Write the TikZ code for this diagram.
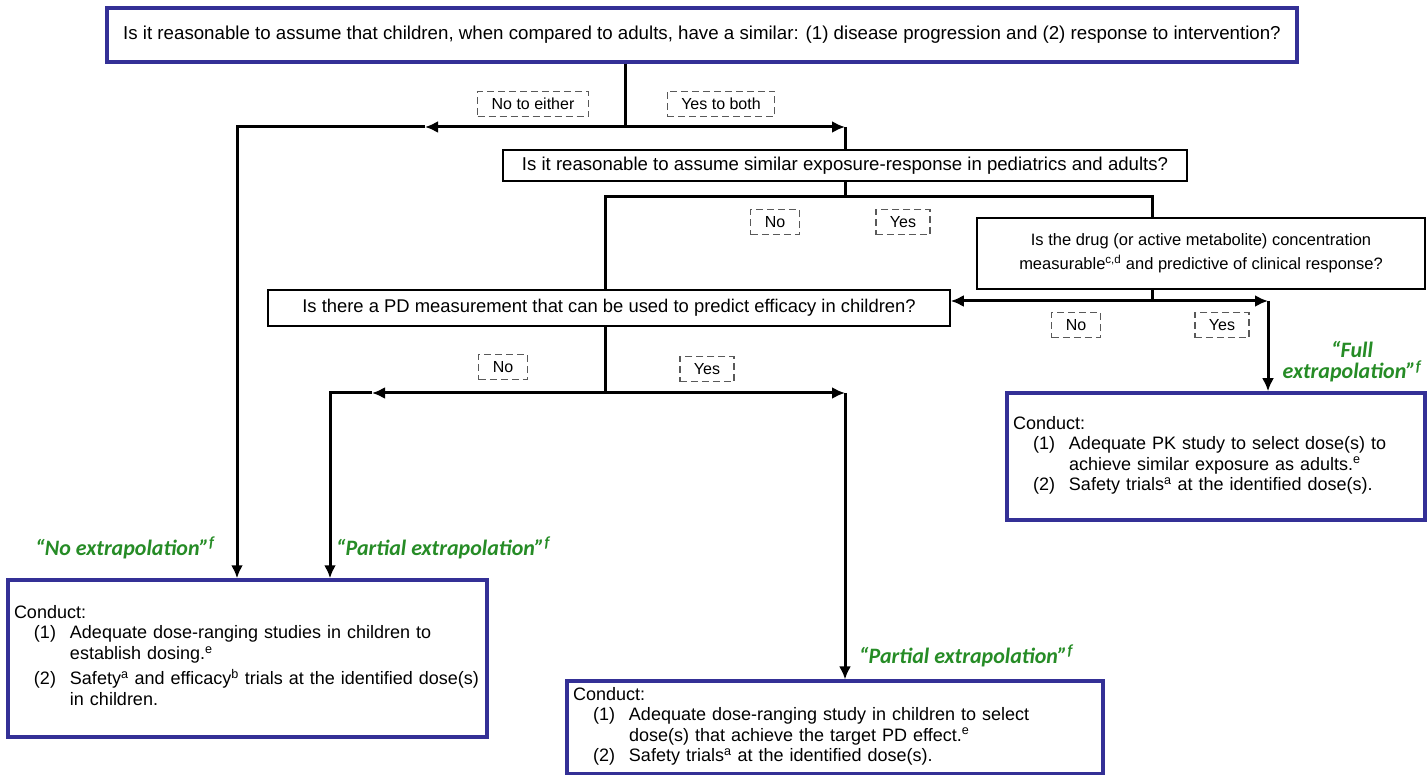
\documentclass[tikz,border=0pt]{standalone}
\usepackage{fontspec}
\setmainfont{Liberation Sans}
\newfontfamily\calib{Carlito}
\usetikzlibrary{arrows.meta}
\definecolor{boxblue}{RGB}{52,48,150}
\definecolor{extgreen}{RGB}{38,140,38}

\begin{document}
\begin{tikzpicture}[x=1pt, y=-1pt,
  conn/.style={%
    line width=3pt%
  },
  tip/.style={%
    conn,%
    -{Latex[length=13pt,width=12pt]}%
  },
  bluebox/.style={%
    draw=boxblue,%
    line width=3.5pt,%
    fill=white,%
    inner sep=6pt,%
    font=\fontsize{18}{20.5}\selectfont%
  },
  qbox/.style={%
    draw=black,%
    line width=1.5pt,%
    fill=white,%
    align=center,%
    font=\fontsize{18.6}{24}\selectfont%
  },
  answer/.style={%
    draw=black!65,%
    dash pattern=on 7pt off 4pt,%
    line width=1.2pt,%
    inner xsep=14pt,%
    inner ysep=7pt,%
    font=\fontsize{16}{18}\selectfont%
  },
  extlabel/.style={%
    text=extgreen,%
    align=center,%
    font=\calib\bfseries\itshape\fontsize{22}{21}\selectfont%
  }
]
  \useasboundingbox (0,0) rectangle (1427,775);

  % questions
  \node [bluebox, minimum width=1190pt, minimum height=54pt, font=\fontsize{18.7}{21}\selectfont] (q1) at (702,35)
    {Is it reasonable to assume that children, when compared to adults, have a similar: (1) disease progression and (2) response to intervention?};
  \node [qbox, minimum width=684pt, minimum height=31pt] (q2) at (845,165.5)
    {Is it reasonable to assume similar exposure-response in pediatrics and adults?};
  \node [qbox, minimum width=448pt, minimum height=71pt, font=\fontsize{16.5}{24}\selectfont] (q3) at (1201,253.5)
    {Is the drug (or active metabolite) concentration\\measurable\textsuperscript{c,d} and predictive of clinical response?};
  \node [qbox, minimum width=682pt, minimum height=36pt, font=\fontsize{18.4}{24}\selectfont] (q4) at (609,308)
    {Is there a PD measurement that can be used to predict efficacy in children?};

  % outcomes
  \node [bluebox, text width=467pt, minimum height=157pt] (noext) at (247.5,658.5)
    {Conduct:\\
     \begin{tabular}[t]{@{\hspace{20pt}}l@{\hspace{14pt}}l@{}}
       (1) & Adequate dose-ranging studies in children to\\
           & establish dosing.\textsuperscript{e}\\[4pt]
       (2) & Safety\textsuperscript{a} and efficacy\textsuperscript{b} trials at the identified dose(s)\\
           & in children.
     \end{tabular}};
  \node [bluebox, text width=524pt, minimum height=89pt] (pdext) at (835,727.5)
    {Conduct:\\
     \begin{tabular}[t]{@{\hspace{20pt}}l@{\hspace{14pt}}l@{}}
       (1) & Adequate dose-ranging study in children to select\\
           & dose(s) that achieve the target PD effect.\textsuperscript{e}\\
       (2) & Safety trials\textsuperscript{a} at the identified dose(s).
     \end{tabular}};
  \node [bluebox, text width=406pt, minimum height=127pt] (fullext) at (1216,456.5)
    {Conduct:\\
     \begin{tabular}[t]{@{\hspace{20pt}}l@{\hspace{14pt}}l@{}}
       (1) & Adequate PK study to select dose(s) to\\
           & achieve similar exposure as adults.\textsuperscript{e}\\
       (2) & Safety trials\textsuperscript{a} at the identified dose(s).
     \end{tabular}};

  % answers
  \node [answer] (a1no)  at (533,104) {No to either};
  \node [answer] (a1yes) at (721,104) {Yes to both};
  \node [answer] (a2no)  at (775,222) {No};
  \node [answer] (a2yes) at (903,222) {Yes};
  \node [answer] (a3no)  at (1076,325) {No};
  \node [answer] (a3yes) at (1222,325) {Yes};
  \node [answer] (a4no)  at (503,367) {No};
  \node [answer] (a4yes) at (707,369) {Yes};

  % extrapolation labels
  \node [extlabel] (lno)   at (125,548) {“No extrapolation”\textsuperscript{f}};
  \node [extlabel] (lpart) at (443,548) {“Partial extrapolation”\textsuperscript{f}};
  \node [extlabel] (lpd)   at (966,656) {“Partial extrapolation”\textsuperscript{f}};
  \node [extlabel] (lfull) at (1352,362) {“Full\\extrapolation”\textsuperscript{f}};

  % joints
  \coordinate (s1) at (625,127);
  \coordinate (m1) at (425,127);
  \coordinate (c1) at (237,127);
  \coordinate (c2) at (845,127);
  \coordinate (s2) at (845,197);
  \coordinate (c3) at (605,197);
  \coordinate (c4) at (1152,197);
  \coordinate (s3) at (1152,301);
  \coordinate (c5) at (1268,301);
  \coordinate (s4) at (605,393);
  \coordinate (m2) at (372,393);
  \coordinate (c6) at (330,393);
  \coordinate (c7) at (845,393);

  \draw [conn] (q1.south -| s1) -- (s1);
  \draw [tip]  (s1) -- (m1);
  \draw [tip]  (m1) -- (c1) -- (noext.north -| c1);
  \draw [tip]  (s1) -- (c2);
  \draw [conn] (c2) -- (q2.north -| c2);

  \draw [conn] (q2.south) -- (s2);
  \draw [conn] (q4.north -| c3) -- (c3) -- (c4) -- (q3.north -| c4);

  \draw [conn] (q3.south -| s3) -- (s3);
  \draw [tip]  (s3) -- (q4.east |- s3);
  \draw [tip]  (s3) -- (c5);
  \draw [tip]  (c5) -- (fullext.north -| c5);

  \draw [conn] (q4.south -| s4) -- (s4);
  \draw [tip]  (s4) -- (m2);
  \draw [tip]  (m2) -- (c6) -- (noext.north -| c6);
  \draw [tip]  (s4) -- (c7);
  \draw [tip]  (c7) -- (pdext.north -| c7);

\end{tikzpicture}
\end{document}
